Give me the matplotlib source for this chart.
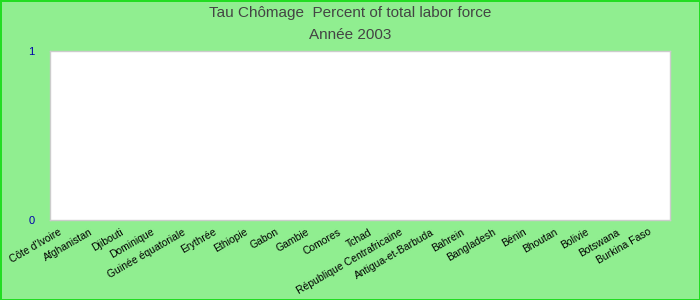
import matplotlib
matplotlib.use("Agg")
from matplotlib import pyplot as plt
from matplotlib import transforms

plt.rcParams['font.family'] = ['Liberation Sans', 'DejaVu Sans']

# chart data (no values shown for this year)
countries = ["Côte d'Ivoire", "Afghanistan", "Djibouti", "Dominique",
             "Guinée équatoriale", "Erythrée", "Ethiopie", "Gabon", "Gambie",
             "Comores", "Tchad", "République Centrafricaine", "Antigua-et-Barbuda",
             "Bahrein", "Bangladesh", "Bénin", "Bhoutan", "Bolivie", "Botswana",
             "Burkina Faso"]
unemployment = [0, 0, 0, 0, 0, 0, 0, 0, 0, 0,
                0, 0, 0, 0, 0, 0, 0, 0, 0, 0]
y_ticks = [0, 1]

fig = plt.figure(figsize=(7, 3), dpi=100)
fig.patch.set_facecolor('#90ee90')
fig.patch.set_edgecolor('#22dd22')
fig.patch.set_linewidth(2)

ax = fig.add_axes([50 / 700, 80 / 300, 620 / 700, 169 / 300])
ax.set_facecolor('white')
ax.bar(range(len(countries)), unemployment, width=0.6, color='#4472c4')

ax.set_xlim(-0.5, len(countries) - 0.5)
ax.set_ylim(0, 1)
ax.set_yticks(y_ticks)
ax.set_yticklabels([str(v) for v in y_ticks], color='#0000aa', fontsize=8)
ax.set_xticks(range(len(countries)))
ax.set_xticklabels(countries, rotation=30, ha='right', rotation_mode='anchor',
                   fontsize=7.5, color='black')
ax.tick_params(axis='both', length=0)
ax.tick_params(axis='y', pad=11)
ax.tick_params(axis='x', pad=5)
# shift the slanted labels a bit to the left, like the original
shift = transforms.ScaledTranslation(-7 / 100, 0, fig.dpi_scale_trans)
for lbl in ax.get_xticklabels():
    lbl.set_transform(lbl.get_transform() + shift)
for sp in ax.spines.values():
    sp.set_color('#cccccc')
    sp.set_linewidth(1)

fig.text(0.5, 1 - 13 / 300, "Tau Chômage  Percent of total labor force",
         ha='center', va='center', fontsize=11, color='#444444')
fig.text(0.5, 1 - 35 / 300, "Année 2003",
         ha='center', va='center', fontsize=11, color='#444444')

fig.savefig("out.png", dpi=100, facecolor=fig.get_facecolor(),
            edgecolor=fig.get_edgecolor())
